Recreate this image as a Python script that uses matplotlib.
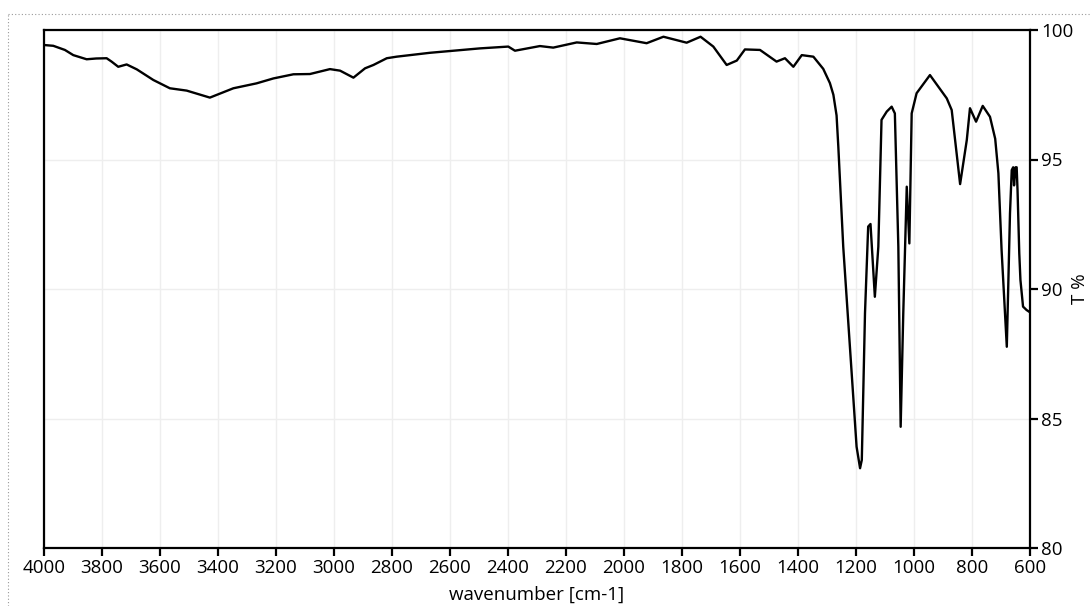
import matplotlib
matplotlib.use("Agg")
import matplotlib.pyplot as plt
from matplotlib.lines import Line2D

plt.rcParams["font.family"] = ["Open Sans", "DejaVu Sans"]

# wavenumber [cm-1] and transmittance [%]
wavenumber = [4000, 3968, 3928, 3899, 3853, 3820, 3784, 3767, 3744, 3715,
              3680, 3623, 3566, 3508, 3428, 3347, 3267, 3209, 3140, 3083,
              3014, 2979, 2933, 2893, 2864, 2818, 2784, 2669, 2497, 2399,
              2376, 2290, 2244, 2163, 2094, 2014, 1922, 1864, 1784, 1736,
              1692, 1646, 1611, 1583, 1531, 1474, 1445, 1416, 1387, 1347,
              1313, 1290, 1278, 1267, 1261, 1244, 1221, 1198, 1186, 1180,
              1169, 1158, 1150, 1135, 1123, 1112, 1094, 1077, 1066, 1054,
              1046, 1037, 1025, 1016, 1008, 991, 945, 887, 870, 841,
              818, 807, 786, 763, 738, 720, 709, 698, 680, 669,
              663, 658, 655, 650, 646, 643, 637, 633, 624, 612, 600]
transmittance = [99.42, 99.39, 99.23, 99.03, 98.87, 98.90, 98.91, 98.78, 98.58, 98.67,
                 98.48, 98.07, 97.75, 97.66, 97.39, 97.75, 97.94, 98.13, 98.29, 98.30,
                 98.49, 98.43, 98.16, 98.52, 98.65, 98.91, 98.97, 99.12, 99.29, 99.36,
                 99.20, 99.38, 99.32, 99.52, 99.46, 99.68, 99.49, 99.74, 99.51, 99.74,
                 99.36, 98.65, 98.82, 99.25, 99.23, 98.78, 98.91, 98.58, 99.03, 98.97,
                 98.50, 97.95, 97.50, 96.70, 95.50, 91.63, 87.77, 83.91, 83.08, 83.40,
                 89.06, 92.41, 92.51, 89.70, 91.63, 96.53, 96.85, 97.04, 96.78, 91.63,
                 84.68, 89.06, 93.95, 91.76, 96.78, 97.56, 98.26, 97.36, 96.91, 94.05,
                 95.75, 96.98, 96.46, 97.07, 96.65, 95.80, 94.47, 91.51, 87.77, 92.92,
                 94.59, 94.70, 94.00, 94.70, 94.70, 93.82, 91.38, 90.35, 89.32, 89.19, 89.10]

x_ticks = list(range(4000, 599, -200))
y_ticks = [80, 85, 90, 95, 100]

fig = plt.figure(figsize=(10.91, 6.06), dpi=100)
ax = fig.add_axes([44 / 1091, 58 / 606, 986 / 1091, 518 / 606])

ax.plot(wavenumber, transmittance, color="black", linewidth=1.7)

ax.set_xlim(4000, 600)
ax.set_ylim(80, 100)
ax.set_xticks(x_ticks)
ax.set_yticks(y_ticks)
ax.yaxis.tick_right()
ax.yaxis.set_label_position("right")
ax.grid(True, color="#eeeeee", linewidth=1.0)
ax.set_axisbelow(True)

for side in ax.spines.values():
    side.set_linewidth(1.6)
    side.set_color("black")

ax.tick_params(axis="both", direction="out", length=6, width=1.6,
               labelsize=13.5, colors="black", pad=2)
ax.set_xlabel("wavenumber [cm-1]", fontsize=13.5, va="center", ha="center")
ax.set_ylabel("T %", fontsize=13.5, va="center", ha="center", rotation=90)
ax.xaxis.set_label_coords(0.5, (548 - 595) / 518)
ax.yaxis.set_label_coords((1080 - 44) / 986, 0.5)

# dotted frame around the picture
fig.add_artist(Line2D([8 / 1091, 1], [1 - 14 / 606, 1 - 14 / 606],
                      transform=fig.transFigure, color="#999999",
                      linestyle=(0, (1, 2)), linewidth=0.8))
fig.add_artist(Line2D([8 / 1091, 8 / 1091], [0, 1 - 14 / 606],
                      transform=fig.transFigure, color="#999999",
                      linestyle=(0, (1, 2)), linewidth=0.8))

fig.savefig("out.png", dpi=100)
